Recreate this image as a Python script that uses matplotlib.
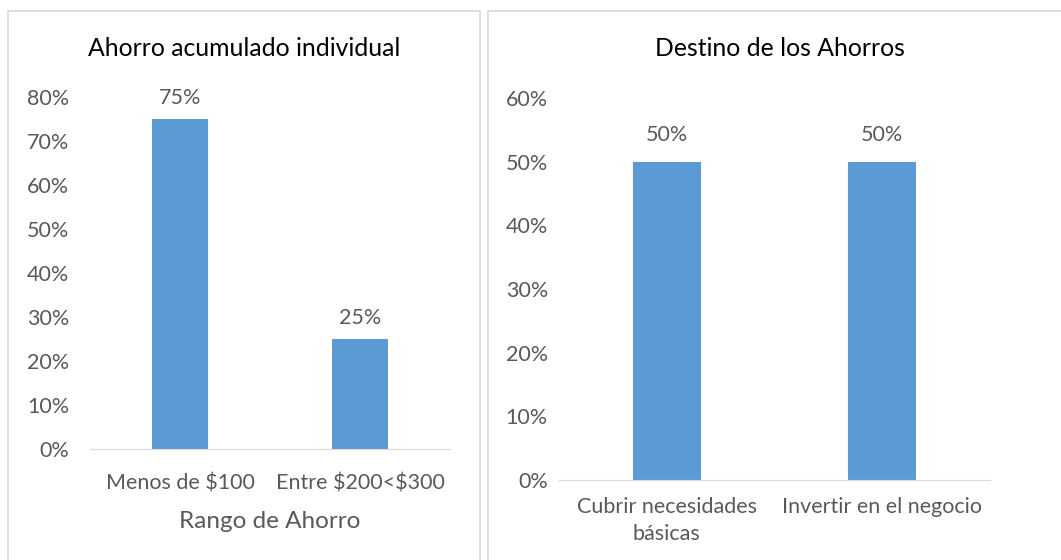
import matplotlib.pyplot as plt
from matplotlib.patches import Rectangle
from matplotlib.ticker import FuncFormatter

plt.rcParams['font.family'] = ['Lato', 'DejaVu Sans']
plt.rcParams['text.parse_math'] = False

# Data
left_cats = ['Menos de $100', 'Entre $200<$300']
left_vals = [0.75, 0.25]
right_cats = ['Cubrir necesidades\nbásicas', 'Invertir en el negocio']
right_vals = [0.50, 0.50]

BAR = '#5B9BD5'
TXT = '#595959'
W, H = 1061, 560
FS = 15.5

fig = plt.figure(figsize=(W / 100, H / 100), dpi=100)

# panel borders
for x0, x1 in [(8, 480), (488, 1070)]:
    fig.add_artist(Rectangle((x0 / W, -0.05), (x1 - x0) / W, 1.05 - 11 / H,
                             transform=fig.transFigure, fill=False,
                             edgecolor='#d9d9d9', linewidth=1.2))


def style(ax, ymax, step, xpad, ypad):
    ax.set_ylim(0, ymax)
    ax.set_yticks([i * step for i in range(int(round(ymax / step)) + 1)])
    ax.yaxis.set_major_formatter(FuncFormatter(lambda v, p: f'{v:.0%}'))
    for s in ['top', 'right', 'left']:
        ax.spines[s].set_visible(False)
    ax.spines['bottom'].set_color('#d9d9d9')
    ax.tick_params(length=0, colors=TXT, labelsize=FS)
    ax.tick_params(axis='x', pad=xpad)
    ax.tick_params(axis='y', pad=ypad)


# left chart
ax1 = fig.add_axes([90 / W, 1 - 449 / H, 360 / W, 352 / H])
b1 = ax1.bar(range(len(left_cats)), left_vals, width=0.31, color=BAR)
ax1.set_xlim(-0.5, 1.5)
ax1.set_xticks(range(len(left_cats)))
ax1.set_xticklabels(left_cats)
style(ax1, 0.8, 0.1, 18, 15)
ax1.bar_label(b1, labels=[f'{v:.0%}' for v in left_vals], padding=8,
              color=TXT, fontsize=FS)
ax1.set_xlabel('Rango de Ahorro', fontsize=17.5, color=TXT, labelpad=12)
fig.text(244 / W, 1 - 48 / H, 'Ahorro acumulado individual', fontsize=17.8,
         ha='center', va='center', color='black')

# right chart
ax2 = fig.add_axes([559 / W, 1 - 480 / H, 431 / W, 382 / H])
b2 = ax2.bar(range(len(right_cats)), right_vals, width=0.316, color=BAR)
ax2.set_xlim(-0.5, 1.5)
ax2.set_xticks(range(len(right_cats)))
ax2.set_xticklabels(right_cats, linespacing=1.45)
style(ax2, 0.6, 0.1, 12, 8)
ax2.bar_label(b2, labels=[f'{v:.0%}' for v in right_vals], padding=12,
              color=TXT, fontsize=FS)
fig.text(780 / W, 1 - 48 / H, 'Destino de los Ahorros', fontsize=17.8,
         ha='center', va='center', color='black')

fig.savefig('out.png', dpi=100)
